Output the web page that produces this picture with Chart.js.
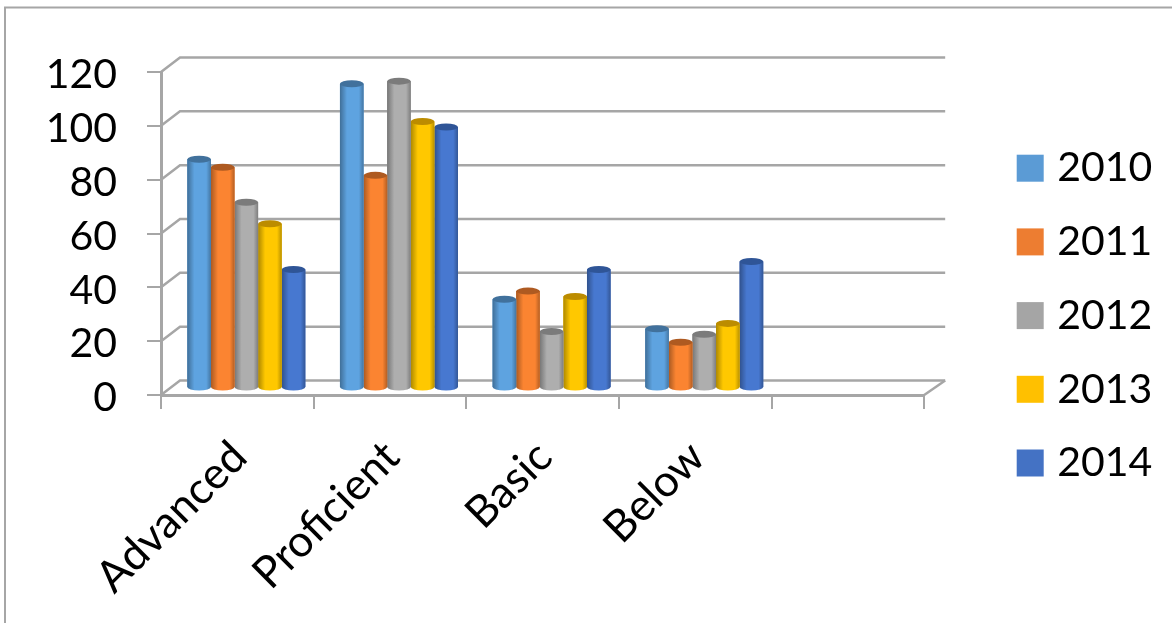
<!DOCTYPE html>
<html>
<head>
<meta charset="utf-8">
<title>Performance levels by year</title>
<script src="https://cdn.jsdelivr.net/npm/chart.js@4/dist/chart.umd.min.js"></script>
<style>
  html, body { margin: 0; padding: 0; background: #fff; }
  #wrap { position: relative; width: 1172px; height: 623px; }
</style>
</head>
<body>
<div id="wrap"><canvas id="myChart" width="1172" height="623"></canvas></div>
<script>
var categories = ['Advanced', 'Proficient', 'Basic', 'Below', ''];
var years = ['2010', '2011', '2012', '2013', '2014'];
var values2010 = [85, 113, 33, 22, null];
var values2011 = [82, 79, 36, 17, null];
var values2012 = [69, 114, 21, 20, null];
var values2013 = [61, 99, 34, 24, null];
var values2014 = [44, 97, 44, 47, null];
var series = [values2010, values2011, values2012, values2013, values2014];

var legendColors = ['#5b9bd5', '#ed7d31', '#a5a5a5', '#ffc000', '#4472c4'];
var bodyColors = ['#5ea3e0', '#fb8431', '#aeaeae', '#ffc800', '#4778d0'];
var capColors = ['#41719c', '#ae5a21', '#7b7b7b', '#bc8c00', '#2f5597'];

var lineColor = '#a6a6a6';
var fontFamily = 'Lato';

// the 3d box: back wall offset from the front plane, columns sit half way in
var wallX = 19, wallY = -14.5;
var barX = 9, barY = -7;
var capHeight = 3.5;

var box3d = {
    id: 'box3d',
    afterLayout: function(chart) {
        // legend column sits further right than the layout would put it
        var legend = chart.legend;
        legend.left = 991;
        legend.right = 1172;
        legend.top = 115;
        legend.bottom = 623;
    },
    beforeDraw: function(chart) {
        var ctx = chart.ctx;
        ctx.save();
        ctx.strokeStyle = lineColor;
        ctx.lineWidth = 2;
        ctx.beginPath();
        ctx.moveTo(1172, 7.5);
        ctx.lineTo(5, 7.5);
        ctx.lineTo(5, 623);
        ctx.stroke();
        ctx.restore();
    },
    beforeDatasetsDraw: function(chart) {
        var ctx = chart.ctx;
        var y = chart.scales.y;
        var a = chart.chartArea;
        ctx.save();
        ctx.strokeStyle = lineColor;
        ctx.lineWidth = 2.5;
        y.ticks.forEach(function(t) {
            var py = y.getPixelForValue(t.value);
            ctx.beginPath();
            ctx.moveTo(a.left, py);
            ctx.lineTo(a.left + wallX, py + wallY);
            ctx.lineTo(a.right + wallX + 2, py + wallY);
            ctx.stroke();
        });
        ctx.beginPath();
        ctx.moveTo(a.right, a.bottom);
        ctx.lineTo(a.right + wallX + 2, a.bottom + wallY);
        ctx.stroke();
        ctx.restore();

        ctx.save();
        ctx.translate(barX, barY);
    },
    afterDatasetDraw: function(chart, args) {
        var ctx = chart.ctx;
        var i = args.index;
        args.meta.data.forEach(function(bar, n) {
            if (series[i][n] === null) return;
            var half = bar.width / 2;
            var left = bar.x - half;
            var right = bar.x + half;
            ctx.beginPath();
            ctx.moveTo(left, bar.y);
            ctx.lineTo(left, bar.base);
            ctx.ellipse(bar.x, bar.base, half, capHeight, 0, Math.PI, 0, true);
            ctx.lineTo(right, bar.y);
            ctx.closePath();
            ctx.fillStyle = bodyColors[i];
            ctx.fill();

            var shade = ctx.createLinearGradient(left, 0, right, 0);
            shade.addColorStop(0, 'rgba(0,0,0,0.32)');
            shade.addColorStop(0.3, 'rgba(0,0,0,0)');
            shade.addColorStop(0.8, 'rgba(0,0,0,0)');
            shade.addColorStop(1, 'rgba(0,0,0,0.28)');
            ctx.fillStyle = shade;
            ctx.fill();

            ctx.beginPath();
            ctx.ellipse(bar.x, bar.y, half, capHeight, 0, 0, Math.PI * 2);
            ctx.fillStyle = capColors[i];
            ctx.fill();
        });
    },
    afterDatasetsDraw: function(chart) {
        chart.ctx.restore();
    }
};

var datasets = years.map(function(year, i) {
    return {
        label: year,
        data: series[i],
        backgroundColor: legendColors[i],
        borderWidth: 0,
        clip: false
    };
});

var myChart = new Chart(document.getElementById('myChart'), {
    type: 'bar',
    data: { labels: categories, datasets: datasets },
    plugins: [box3d],
    options: {
        responsive: false,
        animation: false,
        categoryPercentage: 0.773,
        barPercentage: 1,
        layout: { padding: { top: 72, right: 76.5, bottom: 0, left: 0 } },
        scales: {
            x: {
                afterFit: function(scale) { scale.height = 228; },
                grid: { drawOnChartArea: false, color: lineColor, lineWidth: 2, tickLength: 14 },
                border: { color: lineColor, width: 3 },
                ticks: {
                    autoSkip: false,
                    minRotation: 45,
                    maxRotation: 45,
                    padding: 22,
                    labelOffset: 2,
                    color: '#000',
                    font: { family: fontFamily, size: 44 }
                }
            },
            y: {
                min: 0,
                max: 120,
                afterFit: function(scale) { scale.width = 161; },
                grid: { drawOnChartArea: false, color: lineColor, lineWidth: 2, tickLength: 14 },
                border: { color: lineColor, width: 3 },
                ticks: {
                    stepSize: 20,
                    padding: 30,
                    labelOffset: 3,
                    color: '#000',
                    font: { family: fontFamily, size: 41 }
                }
            }
        },
        plugins: {
            tooltip: { enabled: false },
            legend: {
                position: 'right',
                align: 'start',
                labels: {
                    usePointStyle: true,
                    pointStyle: 'rect',
                    boxWidth: 13,
                    boxHeight: 27,
                    padding: 32.7,
                    color: '#000',
                    font: { family: fontFamily, size: 41 }
                }
            }
        }
    }
});
</script>
</body>
</html>
